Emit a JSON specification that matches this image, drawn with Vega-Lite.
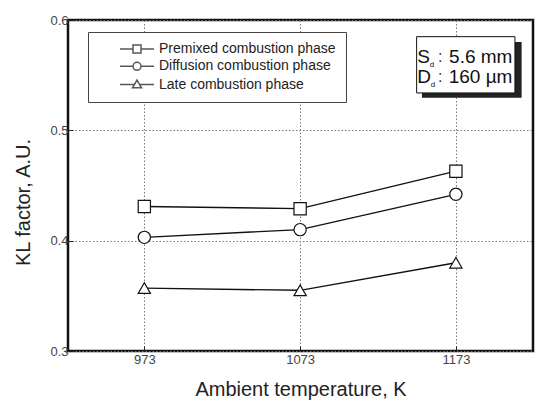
{
  "$schema": "https://vega.github.io/schema/vega-lite/v6.json",
  "width": 465,
  "height": 331,
  "autosize": "none",
  "padding": {"left": 68, "top": 20, "right": 3, "bottom": 53},
  "background": "white",
  "config": {
    "font": "Liberation Sans",
    "view": {"stroke": "#111", "strokeWidth": 2.5},
    "axis": {
      "domain": false,
      "grid": true,
      "gridColor": "#777",
      "gridDash": [1.5, 2],
      "gridWidth": 1,
      "tickColor": "#222",
      "tickSize": -5,
      "labelColor": "#444",
      "labelFontSize": 13,
      "labelFont": "Liberation Sans",
      "titleFont": "Liberation Sans",
      "titleFontSize": 20,
      "titleFontWeight": "normal",
      "titleColor": "#222"
    }
  },
  "datasets": {
    "kl": [
      {"temp": 973, "kl": 0.431, "phase": "Premixed combustion phase"},
      {"temp": 1073, "kl": 0.429, "phase": "Premixed combustion phase"},
      {"temp": 1173, "kl": 0.463, "phase": "Premixed combustion phase"},
      {"temp": 973, "kl": 0.403, "phase": "Diffusion combustion phase"},
      {"temp": 1073, "kl": 0.41, "phase": "Diffusion combustion phase"},
      {"temp": 1173, "kl": 0.442, "phase": "Diffusion combustion phase"},
      {"temp": 973, "kl": 0.357, "phase": "Late combustion phase"},
      {"temp": 1073, "kl": 0.355, "phase": "Late combustion phase"},
      {"temp": 1173, "kl": 0.38, "phase": "Late combustion phase"}
    ],
    "one": [{}]
  },
  "data": {"name": "kl"},
  "resolve": {"scale": {"shape": "independent"}, "legend": {"shape": "independent"}},
  "layer": [
    {
      "mark": {"type": "line", "color": "#111", "strokeWidth": 1.4},
      "encoding": {
        "x": {
          "field": "temp", "type": "quantitative",
          "scale": {"domain": [924, 1222.5], "nice": false, "zero": false},
          "axis": {"values": [973, 1073, 1173], "format": "d", "labelPadding": 7, "title": "Ambient temperature, K", "titleY": 44, "titleBaseline": "alphabetic"}
        },
        "y": {
          "field": "kl", "type": "quantitative",
          "scale": {"domain": [0.3, 0.6], "nice": false, "zero": false},
          "axis": {"values": [0.3, 0.4, 0.5, 0.6], "format": ".1f", "labelPadding": 5, "title": "KL factor, A.U.", "titleX": -39, "titleY": 182, "titleAngle": 270, "titleAlign": "center", "titleBaseline": "alphabetic"}
        },
        "detail": {"field": "phase"}
      }
    },
    {
      "mark": {"type": "point", "filled": true, "fill": "white", "stroke": "#111", "strokeWidth": 1.2, "opacity": 1, "size": 150},
      "encoding": {
        "x": {"field": "temp", "type": "quantitative"},
        "y": {"field": "kl", "type": "quantitative"},
        "shape": {
          "field": "phase", "type": "nominal",
          "scale": {"domain": ["Premixed combustion phase", "Diffusion combustion phase", "Late combustion phase"], "range": ["square", "circle", "triangle-up"]},
          "legend": null
        }
      }
    },
    {
      "transform": [{"filter": "false"}],
      "mark": {"type": "point", "filled": true, "fill": "white", "stroke": "#111", "strokeWidth": 1, "size": 100},
      "encoding": {
        "x": {"field": "temp", "type": "quantitative"},
        "y": {"field": "kl", "type": "quantitative"},
        "shape": {
          "field": "phase", "type": "nominal",
          "scale": {"domain": ["Premixed combustion phase", "Diffusion combustion phase", "Late combustion phase"], "range": ["M3,0H5.6M7.2,0H9.8M5.6,-0.8H7.2V0.8H5.6Z", "M3,0H5.6M7.2,0H9.8M5.6,0A0.8,0.8 0 1,0 7.2,0A0.8,0.8 0 1,0 5.6,0Z", "M3,0H5.9M6.9,0H9.8M6.4,-0.9L7.3,0.65L5.5,0.65Z"]},
          "legend": {
            "orient": "none", "legendX": 20, "legendY": 12, "title": null,
            "padding": 10, "strokeColor": "#444", "fillColor": "white",
            "symbolSize": 100, "labelOffset": 47, "labelFontSize": 14, "labelColor": "#222",
            "labelFont": "Liberation Sans", "rowPadding": 3.3, "labelLimit": 400,
            "labelExpr": "datum.label + '\u00a0\u00a0\u00a0\u00a0\u00a0'"
          }
        }
      }
    },
    {
      "data": {"name": "one"},
      "mark": {"type": "rect", "color": "#222"},
      "encoding": {
        "x": {"datum": 1151.2, "type": "quantitative"},
        "x2": {"datum": 1215.2},
        "y": {"datum": 0.5801, "type": "quantitative"},
        "y2": {"datum": 0.5296}
      }
    },
    {
      "data": {"name": "one"},
      "mark": {"type": "rect", "fill": "white", "stroke": "#111", "strokeWidth": 1},
      "encoding": {
        "x": {"datum": 1147.8, "type": "quantitative"},
        "x2": {"datum": 1210.9},
        "y": {"datum": 0.5849, "type": "quantitative"},
        "y2": {"datum": 0.5339}
      }
    },
    {
      "data": {"name": "one"},
      "mark": {"type": "text", "align": "left", "baseline": "middle", "fontSize": 19, "color": "#111", "font": "Liberation Sans"},
      "encoding": {
        "x": {"datum": 1148.2, "type": "quantitative"},
        "y": {"datum": 0.5667, "type": "quantitative"},
        "text": {"value": "S"}
      }
    },
    {
      "data": {"name": "one"},
      "mark": {"type": "text", "align": "left", "baseline": "middle", "fontSize": 19, "color": "#111", "font": "Liberation Sans"},
      "encoding": {
        "x": {"datum": 1148.2, "type": "quantitative"},
        "y": {"datum": 0.5486, "type": "quantitative"},
        "text": {"value": "D"}
      }
    },
    {
      "data": {"name": "one"},
      "mark": {"type": "text", "align": "left", "baseline": "middle", "fontSize": 8, "color": "#111", "font": "Liberation Sans"},
      "encoding": {
        "x": {"datum": 1156.3, "type": "quantitative"},
        "y": {"datum": 0.5594, "type": "quantitative"},
        "text": {"value": "d"}
      }
    },
    {
      "data": {"name": "one"},
      "mark": {"type": "text", "align": "left", "baseline": "middle", "fontSize": 8, "color": "#111", "font": "Liberation Sans"},
      "encoding": {
        "x": {"datum": 1156.8, "type": "quantitative"},
        "y": {"datum": 0.5413, "type": "quantitative"},
        "text": {"value": "d"}
      }
    },
    {
      "data": {"name": "one"},
      "mark": {"type": "text", "align": "center", "baseline": "middle", "fontSize": 16, "color": "#333", "font": "Liberation Sans"},
      "encoding": {
        "x": {"datum": 1163.0, "type": "quantitative"},
        "y": {"datum": 0.5667, "type": "quantitative"},
        "text": {"value": ":"}
      }
    },
    {
      "data": {"name": "one"},
      "mark": {"type": "text", "align": "center", "baseline": "middle", "fontSize": 16, "color": "#333", "font": "Liberation Sans"},
      "encoding": {
        "x": {"datum": 1163.0, "type": "quantitative"},
        "y": {"datum": 0.5486, "type": "quantitative"},
        "text": {"value": ":"}
      }
    },
    {
      "data": {"name": "one"},
      "mark": {"type": "text", "align": "right", "baseline": "middle", "fontSize": 19, "color": "#111", "font": "Liberation Sans"},
      "encoding": {
        "x": {"datum": 1209.3, "type": "quantitative"},
        "y": {"datum": 0.5667, "type": "quantitative"},
        "text": {"value": "5.6 mm"}
      }
    },
    {
      "data": {"name": "one"},
      "mark": {"type": "text", "align": "right", "baseline": "middle", "fontSize": 19, "color": "#111", "font": "Liberation Sans"},
      "encoding": {
        "x": {"datum": 1209.3, "type": "quantitative"},
        "y": {"datum": 0.5486, "type": "quantitative"},
        "text": {"value": "160 µm"}
      }
    }
  ]
}
